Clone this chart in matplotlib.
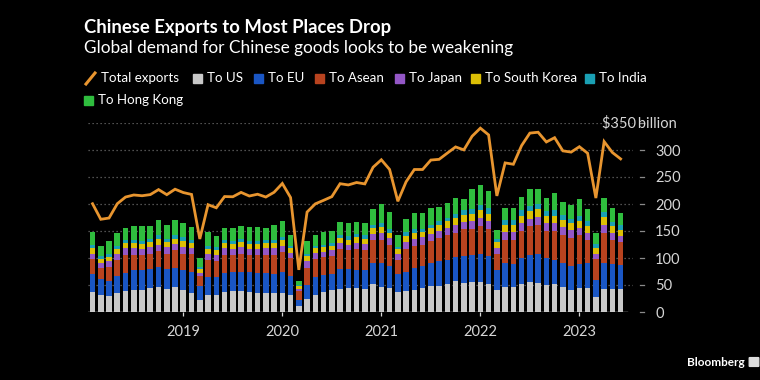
import matplotlib
matplotlib.use("Agg")
import matplotlib.pyplot as plt
import numpy as np
from matplotlib.patches import Rectangle, FancyBboxPatch
from matplotlib.lines import Line2D

plt.rcParams['font.family'] = ['Lato', 'DejaVu Sans']

# monthly, Jan 2018 .. May 2023 (US$ billion)
total = [200.5, 171.7, 174.0, 200.5, 212.9, 216.7, 215.3, 217.4, 226.7, 217.3, 227.4, 221.2,
         217.7, 135.2, 198.7, 193.0, 213.8, 213.4, 221.5, 214.8, 218.1, 212.9, 221.7, 238.0,
         212.0, 78.0, 185.1, 200.3, 206.8, 213.6, 237.6, 235.3, 239.8, 237.2, 268.1, 281.9,
         264.0, 205.0, 241.1, 263.9, 263.9, 281.4, 282.7, 294.3, 305.7, 300.2, 325.5, 340.5,
         328.0, 215.0, 276.1, 273.6, 308.2, 331.3, 332.9, 314.9, 322.8, 298.4, 296.1, 306.1,
         294.0, 211.0, 315.6, 295.4, 283.5]
us = [37, 31.5, 30, 36, 38, 41, 41, 44, 46, 43, 46, 40,
      36, 22, 31.5, 31, 37, 39, 38, 36.5, 36, 35, 35, 35,
      32, 10.5, 25, 32, 36.5, 40, 43, 44.5, 44.5, 43, 52, 46,
      44, 36.5, 38, 41, 44.5, 48, 49, 52.5, 57, 54, 55, 56,
      52, 40, 46, 46, 52, 56, 54, 49.5, 51, 46, 40, 44.5,
      44.5, 27, 43, 42.7, 42.7]
eu = [34, 29.5, 27, 31, 34, 36, 36, 36, 37, 37, 36, 37,
      38, 27, 32.5, 33, 35, 35, 37, 37.5, 36, 37, 36, 39,
      34, 11, 24.5, 32, 31.5, 31, 37, 35.5, 34, 34, 38, 44,
      41, 34, 37, 41, 41.5, 43, 45, 44.5, 44, 49, 50, 52,
      52.5, 38.5, 45, 43, 48, 50, 53.6, 50.5, 46, 45, 46, 44.5,
      45.5, 33, 47, 45.3, 44.3]
asean = [27, 21, 26, 29, 34, 29, 28, 28, 30, 28, 32, 31,
         34, 17, 32, 30, 34, 31, 33, 31, 33, 34, 35, 37,
         34, 16.5, 32.5, 35, 33, 32, 36, 34, 37.5, 37, 43, 44,
         40, 26.5, 42, 41, 39, 40, 43, 45, 46, 50, 49, 51,
         48.5, 29.5, 43, 45, 50, 53, 54.4, 50, 53, 52.5, 51, 53,
         44, 38, 56.6, 46, 42]
japan = [10, 9, 11, 11, 12, 12, 12, 12, 12, 12, 12, 13,
         11, 7, 11, 11, 12, 12, 12, 12, 12, 12, 12, 12,
         10, 5, 12, 11, 11, 11, 12, 11, 12, 12, 12, 13,
         12, 10, 13, 13, 13, 13, 13, 14, 14, 14, 14, 15,
         15, 11, 14, 14, 14, 14, 14, 14, 14, 14, 14, 14,
         13, 10, 14, 13, 12]
korea = [10, 7.5, 8, 9, 9, 9, 9, 9, 10, 9, 10, 10,
         9, 6, 9, 9, 9, 9, 10, 9, 9, 9, 10, 10,
         8, 4.5, 9, 9, 9, 9, 9, 9, 10, 10, 10, 11,
         10, 9, 11, 11, 11, 12, 12, 12, 13, 13, 14, 15,
         14, 10, 13, 13, 14, 14, 14, 13, 14, 13, 13, 13,
         12, 10, 15, 12, 11]
india = [6, 6, 6, 6, 6, 6, 6, 6, 7, 7, 7, 7,
         6, 5, 7, 6, 6, 6, 6, 6, 6, 6, 6, 6,
         5, 2, 5, 3, 3, 4, 5, 6, 6, 6, 6, 7,
         7, 5, 7, 6, 5, 6, 7, 7, 8, 8, 9, 10,
         10, 7, 9, 9, 10, 10, 10, 10, 10, 9, 9, 9,
         9, 8, 10, 8, 9]
hong_kong = [24, 18.5, 24, 25, 22, 26, 27, 25, 28, 26, 28, 26,
             24, 16, 25, 20, 22, 24, 23, 26, 26, 22, 27, 30,
             20, 8.5, 23, 20, 24, 23, 25, 24, 23, 23, 30, 35,
             31, 21, 25, 31, 30, 31, 26, 26, 29.5, 22, 37, 37,
             32, 15.5, 22, 22, 25, 31, 27, 24.5, 33, 24.5, 26, 32,
             23, 20.6, 26, 26, 23]

series = [("To US", us, "#c8c8c8"),
          ("To EU", eu, "#1a56c4"),
          ("To Asean", asean, "#b8431f"),
          ("To Japan", japan, "#9457c6"),
          ("To South Korea", korea, "#dcbf05"),
          ("To India", india, "#1aa0b4"),
          ("To Hong Kong", hong_kong, "#2fbd3e")]
line_color = "#e8952f"
year_ticks = [11, 23, 35, 47, 59]
year_labels = ["2019", "2020", "2021", "2022", "2023"]

W, H = 760, 380
fig = plt.figure(figsize=(7.6, 3.8), dpi=100, facecolor="black")
ax = fig.add_axes([88 / W, 68 / H, 545 / W, 189 / H], facecolor="black")

x = np.arange(len(total))
bottom = np.zeros(len(total))
for name, vals, col in series:
    ax.bar(x, vals, width=0.68, bottom=bottom, color=col, linewidth=0, zorder=3)
    bottom += np.array(vals)
ax.plot(x, total, color=line_color, lw=2.0, zorder=4, solid_joinstyle="miter", clip_on=False)

ax.set_xlim(-0.55, 65.5)
ax.set_ylim(0, 350)
for s in ax.spines.values():
    s.set_visible(False)
yt = [0, 50, 100, 150, 200, 250, 300, 350]
for v in yt[1:]:
    ax.axhline(v, color="#6a6a6a", lw=0.9, ls=(0, (1, 2.2)), zorder=1)
ax.axhline(0, xmin=0, xmax=(64.8 + 0.55) / 66.05, color="#d8d8d8", lw=1.0, zorder=5)

ax.yaxis.tick_right()
ax.set_yticks(yt)
ax.set_yticklabels([str(v) for v in yt[:-1]] + [""])
ax.tick_params(axis="y", length=0, pad=16, labelsize=10.5, labelcolor="#d6d6d6")
for lab in ax.get_yticklabels():
    lab.set_horizontalalignment("left")
for v in yt:
    ax.plot([1.013, 1.02], [v, v], transform=ax.get_yaxis_transform(), color="#8a8a8a",
            lw=0.9, clip_on=False)
fig.text(677 / W, 1 - 123 / H, "$350\u2009billion", color="#d6d6d6", fontsize=10.5,
         ha="right", va="center")

ax.set_xticks(year_ticks)
ax.set_xticklabels(year_labels)
ax.tick_params(axis="x", length=3, width=0.9, color="#d8d8d8", pad=6, labelsize=10.5,
               labelcolor="#d6d6d6")

# titles
fig.text(84 / W, 1 - 27 / H, "Chinese Exports to Most Places Drop", color="white",
         fontsize=13.3, fontweight="bold", va="center", ha="left")
fig.text(84 / W, 1 - 48 / H, "Global demand for Chinese goods looks to be weakening",
         color="white", fontsize=12.4, va="center", ha="left")

# legend
fig.add_artist(Line2D([86 / W, 95 / W], [1 - 84 / H, 1 - 73 / H], color=line_color, lw=2.2))
fig.text(101 / W, 1 - 78.5 / H, "Total exports", color="white", fontsize=9.6, va="center")
leg_pos = [(193, 78.5), (254, 78.5), (315, 78.5), (395, 78.5), (471, 78.5), (585, 78.5), (84, 100)]
for (name, vals, col), (px, py) in zip(series, leg_pos):
    fig.add_artist(Rectangle((px / W, 1 - (py + 4.5) / H), 9 / W, 9 / H, color=col,
                             transform=fig.transFigure))
    fig.text((px + 14) / W, 1 - py / H, name, color="white", fontsize=9.6, va="center")

# brand
fig.text(745 / W, 1 - 362 / H, "Bloomberg", color="white", fontsize=8.5,
         fontweight="bold", ha="right", va="center")
fig.add_artist(FancyBboxPatch((750 / W, 1 - 366 / H), 8 / W, 8 / H,
                              boxstyle="round,pad=0.001", color="#dddddd",
                              transform=fig.transFigure))

fig.savefig("out.png", dpi=100, facecolor="black")
